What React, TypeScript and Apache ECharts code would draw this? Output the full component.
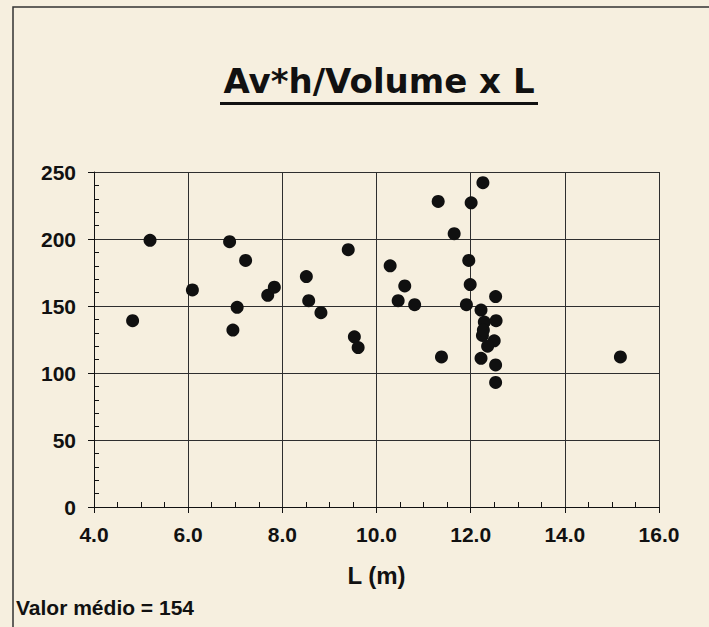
import React, { useEffect, useRef } from "react";
import * as echarts from "echarts";

// L (m) values of each measured point
const lengthsM = [
  4.82, 5.19, 6.09, 6.88, 7.22, 7.04, 6.95, 7.69, 7.83, 8.51, 8.56, 8.82, 9.4, 9.53, 9.61,
  12.26, 11.31, 12.01, 11.65, 10.29, 11.96, 10.6, 10.46, 10.81, 11.99, 11.91, 12.53, 12.22,
  12.54, 12.29, 12.25, 12.5, 12.36, 11.38, 12.22, 12.53, 12.53, 15.18, 12.27,
];
// Av*h/Volume values of each point
const ratios = [
  139, 199, 162, 198, 184, 149, 132, 158, 164, 172, 154, 145, 192, 127, 119,
  242, 228, 227, 204, 180, 184, 165, 154, 151, 166, 151, 157, 147,
  139, 138, 128, 124, 120, 112, 111, 106, 93, 112, 132,
];

const titleText = "Av*h/Volume x L";
const xAxisName = "L (m)";
const noteText = "Valor médio = 154";

const X_MIN = 4;
const X_MAX = 16;
const X_STEP = 2;
const Y_MIN = 0;
const Y_MAX = 250;
const Y_STEP = 50;

export default function App() {
  const ref = useRef<HTMLDivElement>(null);

  useEffect(() => {
    if (!ref.current) return;
    const chart = echarts.init(ref.current, null, { renderer: "svg" });
    const data = lengthsM.map((l, i) => [l, ratios[i]]);
    const fam = "'Liberation Sans', Arial, Helvetica, sans-serif";
    const ink = "#111";
    const gridColor = "#2e2e2e";
    const labelStyle = {
      fontFamily: fam,
      fontWeight: "bold" as const,
      fontSize: 21,
      color: ink,
    };

    chart.setOption({
      animation: false,
      backgroundColor: "#f6efdf",
      grid: { left: 94, right: 50, top: 172, height: 335, containLabel: false },
      xAxis: [
        {
          type: "value",
          min: X_MIN,
          max: X_MAX,
          interval: X_STEP,
          position: "bottom",
          axisLine: { show: true, onZero: false, lineStyle: { color: ink, width: 1 } },
          axisTick: { show: true, length: 6, lineStyle: { color: ink, width: 1 } },
          splitLine: { show: true, lineStyle: { color: gridColor, width: 1 } },
          axisLabel: {
            ...labelStyle,
            margin: 17,
            formatter: (v: number) => v.toFixed(1),
          },
          name: xAxisName,
          nameLocation: "middle",
          nameGap: 56,
          nameTextStyle: { fontFamily: fam, fontWeight: "bold", fontSize: 24, color: ink },
        },
        {
          type: "value",
          min: X_MIN,
          max: X_MAX,
          interval: X_STEP,
          position: "bottom",
          axisLine: { show: false },
          axisTick: { show: false, inside: true },
          minorTick: { show: true, splitNumber: 4, length: 5, lineStyle: { color: ink, width: 1 } },
          axisLabel: { show: false },
          splitLine: { show: false },
        },
      ],
      yAxis: [
        {
          type: "value",
          min: Y_MIN,
          max: Y_MAX,
          interval: Y_STEP,
          position: "left",
          axisLine: { show: true, onZero: false, lineStyle: { color: ink, width: 1 } },
          axisTick: { show: true, length: 6, lineStyle: { color: ink, width: 1 } },
          splitLine: { show: true, lineStyle: { color: gridColor, width: 1 } },
          axisLabel: { ...labelStyle, margin: 18 },
        },
        {
          type: "value",
          min: Y_MIN,
          max: Y_MAX,
          interval: Y_STEP,
          position: "left",
          axisLine: { show: false },
          axisTick: { show: false, inside: true },
          minorTick: { show: true, splitNumber: 5, length: 5, lineStyle: { color: ink, width: 1 } },
          axisLabel: { show: false },
          splitLine: { show: false },
        },
      ],
      series: [
        {
          type: "scatter",
          xAxisIndex: 0,
          yAxisIndex: 0,
          data,
          symbol: "circle",
          symbolSize: 13,
          itemStyle: { color: "#101010", opacity: 1 },
        },
      ],
      graphic: [
        {
          type: "polyline",
          shape: { points: [[13, 627], [13, 7], [709, 7]] },
          style: { stroke: "#333", lineWidth: 1.5, fill: "none" },
          silent: true,
        },
        {
          type: "text",
          x: 379,
          y: 81,
          style: {
            text: titleText,
            font: "bold 34px 'DejaVu Sans', sans-serif",
            fill: ink,
            align: "center",
            verticalAlign: "middle",
          },
          silent: true,
        },
        {
          type: "rect",
          shape: { x: 220, y: 102, width: 318, height: 3 },
          style: { fill: ink },
          silent: true,
        },
        {
          type: "text",
          x: 16,
          y: 607,
          style: {
            text: noteText,
            font: `bold 21px ${fam}`,
            fill: ink,
            align: "left",
            verticalAlign: "middle",
          },
          silent: true,
        },
      ],
    });

    return () => {
      chart.dispose();
    };
  }, []);

  return (
    <div
      ref={ref}
      style={{ position: "fixed", left: 0, top: 0, width: 709, height: 627 }}
    />
  );
}
